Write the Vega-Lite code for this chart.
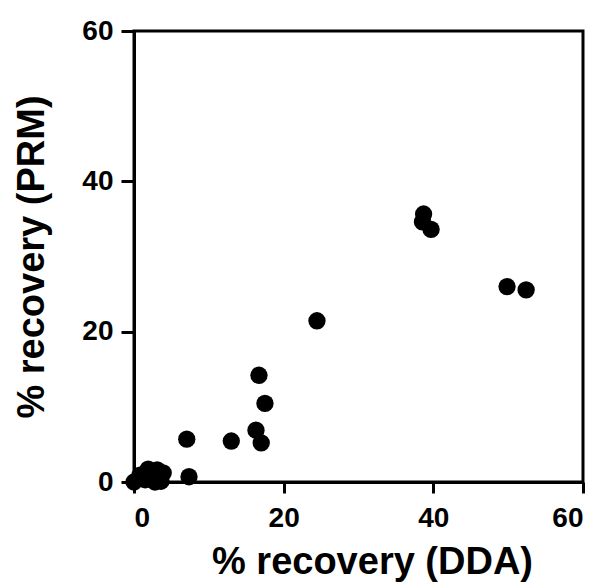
{
  "$schema": "https://vega.github.io/schema/vega-lite/v6.json",
  "autosize": "none",
  "width": 449,
  "height": 451,
  "padding": {"left": 134, "top": 31, "right": 19, "bottom": 104},
  "background": "white",
  "config": {
    "view": {"stroke": "black", "strokeWidth": 3},
    "axis": {
      "domainColor": "black",
      "domainWidth": 3,
      "tickColor": "black",
      "tickWidth": 3,
      "grid": false,
      "labelFont": "Liberation Sans",
      "labelFontWeight": "bold",
      "labelFontSize": 28,
      "labelColor": "black",
      "titleFont": "Liberation Sans",
      "titleFontWeight": "bold",
      "titleFontSize": 38,
      "titleColor": "black"
    }
  },
  "data": {
    "values": [
      {"dda": 0.0, "prm": 0.0},
      {"dda": 0.8, "prm": 0.9},
      {"dda": 1.5, "prm": 0.3},
      {"dda": 1.9, "prm": 1.7},
      {"dda": 2.3, "prm": 0.8},
      {"dda": 2.8, "prm": 0.0},
      {"dda": 3.1, "prm": 1.6},
      {"dda": 3.6, "prm": 0.1},
      {"dda": 3.9, "prm": 1.2},
      {"dda": 7.05, "prm": 5.7},
      {"dda": 7.35, "prm": 0.7},
      {"dda": 13.0, "prm": 5.45},
      {"dda": 16.3, "prm": 6.9},
      {"dda": 17.0, "prm": 5.2},
      {"dda": 16.7, "prm": 14.2},
      {"dda": 17.5, "prm": 10.45},
      {"dda": 24.45, "prm": 21.45},
      {"dda": 38.7, "prm": 35.65},
      {"dda": 38.55, "prm": 34.6},
      {"dda": 39.7, "prm": 33.6},
      {"dda": 49.85, "prm": 26.0},
      {"dda": 52.4, "prm": 25.55}
    ]
  },
  "mark": {"type": "circle", "color": "black", "opacity": 1, "size": 300},
  "encoding": {
    "x": {
      "field": "dda",
      "type": "quantitative",
      "scale": {"domain": [0, 60], "nice": false, "zero": true},
      "axis": {"values": [0, 20, 40, 60], "tickSize": 11, "labelPadding": 11, "title": "% recovery (DDA)", "titlePadding": 11, "titleX": 238}
    },
    "y": {
      "field": "prm",
      "type": "quantitative",
      "scale": {"domain": [0, 60], "nice": false},
      "axis": {"values": [0, 20, 40, 60], "tickSize": 13, "labelPadding": 8, "title": "% recovery (PRM)", "titlePadding": 30}
    }
  }
}
